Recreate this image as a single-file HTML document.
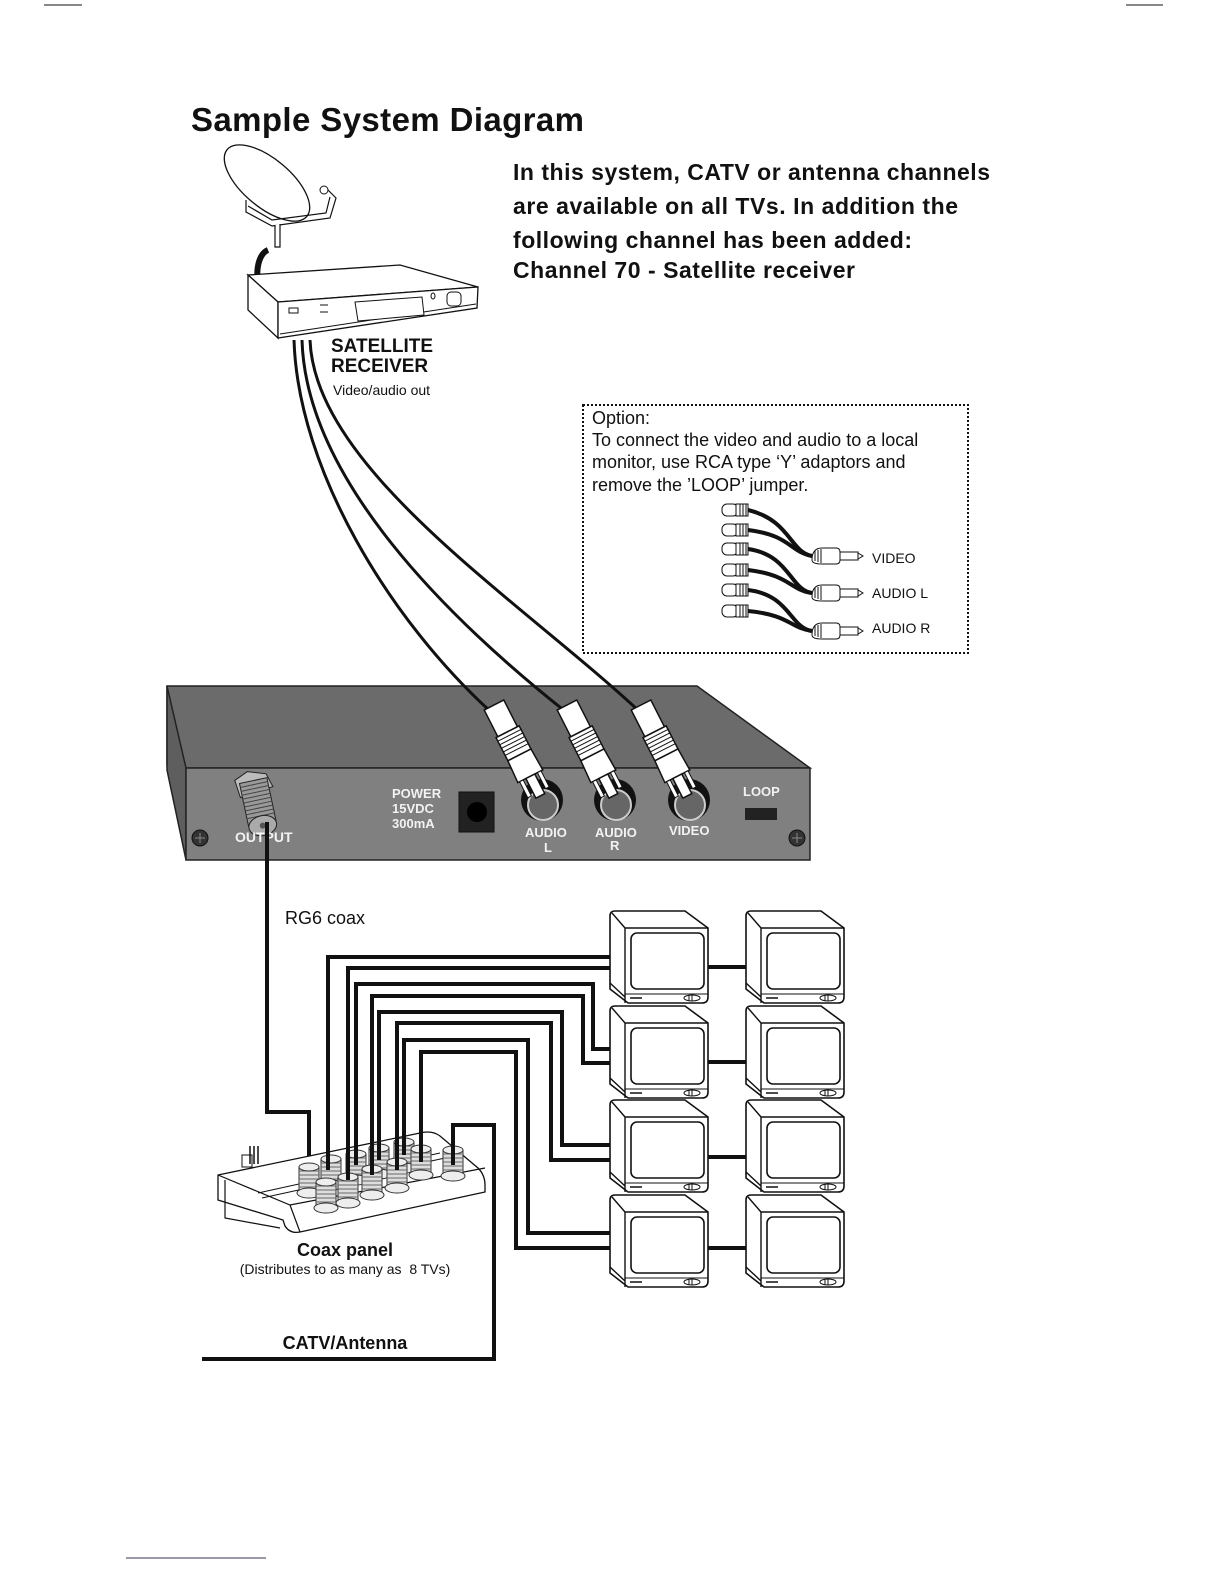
<!DOCTYPE html>
<html><head><meta charset="utf-8"><style>html,body{margin:0;padding:0;background:#fff}svg{display:block}</style></head>
<body>
<svg width="1224" height="1584" viewBox="0 0 1224 1584" xmlns="http://www.w3.org/2000/svg" font-family="Liberation Sans, Arial, sans-serif">
<defs>
<g id="tv">
  <path d="M0,5 Q0,0 5,0 L75,0 L98,17 L98,86 Q98,92 92,92 L18,92 L0,78 Z" fill="#fff" stroke="#111" stroke-width="1.6"/>
  <path d="M2,2 L15,17 L98,17 M15,17 L15,92 M0,72 L15,86" fill="none" stroke="#111" stroke-width="1.4"/>
  <rect x="21" y="22" width="73" height="56" rx="6" fill="#fff" stroke="#111" stroke-width="1.6"/>
  <line x1="15" y1="83" x2="98" y2="83" stroke="#111" stroke-width="1"/>
  <line x1="20" y1="87" x2="32" y2="87" stroke="#111" stroke-width="1.5"/>
  <ellipse cx="82" cy="87" rx="8" ry="3" fill="none" stroke="#111" stroke-width="1"/>
  <line x1="79" y1="84" x2="79" y2="90" stroke="#111"/><line x1="82" y1="84" x2="82" y2="90" stroke="#111"/>
</g>
<g id="plug">
  <rect x="-11" y="0" width="22" height="30" fill="#fff" stroke="#111" stroke-width="1.5"/>
  <rect x="-13" y="30" width="26" height="26" fill="#fff" stroke="#111" stroke-width="1.5"/>
  <path d="M-13,34h26M-13,38h26M-13,42h26M-13,46h26M-13,50h26" stroke="#111" stroke-width="1"/>
  <path d="M-13,56 L13,56 L14,80 L-14,80 Z" fill="#fff" stroke="#111" stroke-width="1.5"/>
  <rect x="-5" y="80" width="10" height="22" fill="#fff" stroke="#111" stroke-width="1.5"/>
  <rect x="-12" y="80" width="4" height="18" fill="#fff" stroke="#111"/>
  <rect x="8" y="80" width="4" height="18" fill="#fff" stroke="#111"/>
</g>
<g id="fjack">
  <path d="M-20,4 Q-20,-8 -10,-8 L4,-8 Q8,-8 8,-4 L8,4 Q8,8 4,8 L-10,8 Q-20,8 -20,4 Z" fill="#fff" stroke="#111"/>
  <path d="M-17,-5v10M-14,-6v12M-11,-7v14" stroke="#111"/>
  <rect x="8" y="-4" width="18" height="8" fill="#fff" stroke="#111"/>
  <path d="M26,-3 l5,3 l-5,3" fill="none" stroke="#111"/>
</g>
<g id="mjack">
  <rect x="-24" y="-6" width="16" height="12" rx="5" fill="#fff" stroke="#111"/>
  <rect x="-10" y="-6" width="12" height="12" fill="#fff" stroke="#111"/>
  <path d="M-6,-6v12M-3,-6v12M0,-6v12" stroke="#111"/>
</g>
<g id="cc">
  <rect x="-10" y="-18" width="20" height="26" fill="#ddd" stroke="#333" stroke-width="1"/>
  <path d="M-10,-14h20M-10,-10h20M-10,-6h20M-10,-2h20M-10,2h20" stroke="#666"/>
  <ellipse cx="0" cy="8" rx="12" ry="5" fill="#eee" stroke="#333"/>
  <ellipse cx="0" cy="-18" rx="10" ry="4" fill="#eee" stroke="#333"/>
</g>
</defs>

<line x1="44" y1="5" x2="82" y2="5" stroke="#111" stroke-width="1"/>
<line x1="1126" y1="5" x2="1163" y2="5" stroke="#111" stroke-width="1"/>
<line x1="126" y1="1558" x2="266" y2="1558" stroke="#335" stroke-width="1"/>

<text x="191" y="131" font-size="33" font-weight="bold" fill="#111" textLength="393">Sample System Diagram</text>
<g font-size="23" font-weight="bold" fill="#111">
<text x="513" y="180" textLength="477">In this system, CATV or antenna channels</text>
<text x="513" y="214" textLength="445">are available on all TVs.  In addition the</text>
<text x="513" y="248" textLength="399">following channel has been added:</text>
<text x="513" y="278" textLength="342">Channel 70 - Satellite receiver</text>
</g>

<path d="M268,250 C255,255 255,285 262,288" fill="none" stroke="#111" stroke-width="6"/>
<ellipse cx="267" cy="183" rx="52" ry="24" transform="rotate(40 267 183)" fill="#fff" stroke="#111" stroke-width="1.3"/>
<path d="M246,200 L246,212 L272,226 L330,218 L336,198 L326,188 M248,206 L272,220 L326,213 L330,197" fill="none" stroke="#111" stroke-width="1.2"/>
<circle cx="324" cy="190" r="4" fill="#fff" stroke="#111"/>
<path d="M275,225 L275,247 L280,247 L280,224" fill="#fff" stroke="#111" stroke-width="1.2"/>

<path d="M248,275 L400,265 L478,287 L278,302 Z" fill="#fff" stroke="#111" stroke-width="1.3"/>
<path d="M248,275 L248,310 L278,338 L278,302 Z" fill="#fff" stroke="#111" stroke-width="1.3"/>
<path d="M278,302 L478,287 L477,308 L278,338 Z" fill="#fff" stroke="#111" stroke-width="1.3"/>
<path d="M280,334 L476,304" stroke="#111"/>
<path d="M355,302 L422,297 L424,315 L358,321 Z" fill="#fff" stroke="#111"/>
<rect x="289" y="308" width="9" height="5" fill="none" stroke="#111"/>
<line x1="320" y1="305" x2="328" y2="305" stroke="#111"/><line x1="320" y1="312" x2="328" y2="312" stroke="#111"/>
<ellipse cx="433" cy="296" rx="2" ry="3" fill="none" stroke="#111"/>
<rect x="447" y="292" width="14" height="14" rx="4" fill="none" stroke="#111"/>

<text x="331" y="352" font-size="19" font-weight="bold" fill="#111">SATELLITE</text>
<text x="331" y="372" font-size="19" font-weight="bold" fill="#111">RECEIVER</text>
<text x="333" y="395" font-size="14" fill="#111">Video/audio out</text>

<rect x="583" y="405" width="385" height="248" fill="none" stroke="#111" stroke-width="2" stroke-dasharray="2,2"/>
<g font-size="18" fill="#111">
<text x="592" y="424">Option:</text>
<text x="592" y="446">To connect the video and audio to a local</text>
<text x="592" y="468">monitor, use RCA type ‘Y’ adaptors and</text>
<text x="592" y="491">remove the ’LOOP’ jumper.</text>
</g>
<g stroke="#111" stroke-width="4" fill="none">
<path d="M748,510 C790,520 790,552 812,556"/><path d="M748,530 C790,535 790,552 812,556"/>
<path d="M748,549 C790,555 790,590 812,593"/><path d="M748,570 C790,575 790,590 812,593"/>
<path d="M748,590 C790,595 790,628 812,631"/><path d="M748,611 C790,615 790,628 812,631"/>
</g>
<use href="#mjack" x="746" y="510"/><use href="#mjack" x="746" y="530"/>
<use href="#mjack" x="746" y="549"/><use href="#mjack" x="746" y="570"/>
<use href="#mjack" x="746" y="590"/><use href="#mjack" x="746" y="611"/>
<use href="#fjack" x="832" y="556"/><use href="#fjack" x="832" y="593"/><use href="#fjack" x="832" y="631"/>
<text x="872" y="563" font-size="14" fill="#111">VIDEO</text>
<text x="872" y="598" font-size="14" fill="#111">AUDIO L</text>
<text x="872" y="633" font-size="14" fill="#111">AUDIO R</text>

<path d="M167,686 L697,686 L810,768 L186,768 L167,765 Z" fill="#6b6b6b" stroke="#222" stroke-width="1.5"/>
<path d="M167,686 L167,770 L186,860 L186,768 Z" fill="#5e5e5e" stroke="#222" stroke-width="1.5"/>
<rect x="186" y="768" width="624" height="92" fill="#808080" stroke="#222" stroke-width="1.5"/>

<g stroke="#111" stroke-width="3" fill="none">
<path d="M294,340 C298,470 390,620 491,712"/>
<path d="M302,340 C306,480 450,620 566,712"/>
<path d="M310,340 C315,470 520,600 640,712"/>
</g>

<circle cx="542" cy="800" r="21" fill="#111"/><circle cx="543" cy="805" r="15" fill="#666" stroke="#ccc" stroke-width="2"/>
<circle cx="615" cy="800" r="21" fill="#111"/><circle cx="616" cy="805" r="15" fill="#666" stroke="#ccc" stroke-width="2"/>
<circle cx="689" cy="800" r="21" fill="#111"/><circle cx="690" cy="805" r="15" fill="#666" stroke="#ccc" stroke-width="2"/>
<use href="#plug" transform="translate(494,705) rotate(-27)"/>
<use href="#plug" transform="translate(567,705) rotate(-27)"/>
<use href="#plug" transform="translate(641,705) rotate(-27)"/>

<g transform="translate(259,808) rotate(-12)">
<path d="M-18,-32 L-4,-38 L14,-32 L18,-18 L-16,-14 Z" fill="#bbb" stroke="#222"/>
<rect x="-14" y="-28" width="28" height="44" fill="#999" stroke="#222"/>
<path d="M-14,-24h28M-14,-20h28M-14,-16h28M-14,-12h28M-14,-8h28M-14,-4h28M-14,0h28M-14,4h28M-14,8h28" stroke="#444"/>
<ellipse cx="0" cy="18" rx="14" ry="10" fill="#aaa" stroke="#222"/>
<circle cx="0" cy="18" r="3" fill="#555"/>
</g>
<rect x="459" y="792" width="35" height="40" fill="#222" stroke="#111"/>
<circle cx="477" cy="812" r="10" fill="#000"/>
<rect x="745" y="808" width="32" height="12" fill="#222"/>
<circle cx="200" cy="838" r="8" fill="#333" stroke="#111"/><path d="M195,838h10M200,833v10" stroke="#888"/>
<circle cx="797" cy="838" r="8" fill="#333" stroke="#111"/><path d="M792,838h10M797,833v10" stroke="#888"/>
<g fill="#fff" font-size="13" font-weight="bold" opacity="0.9">
<text x="392" y="798">POWER</text><text x="392" y="813">15VDC</text><text x="392" y="828">300mA</text>
<text x="235" y="842" font-size="14">OUTPUT</text>
<text x="525" y="837">AUDIO</text><text x="544" y="852">L</text>
<text x="595" y="837">AUDIO</text><text x="610" y="850">R</text>
<text x="669" y="835">VIDEO</text>
<text x="743" y="796">LOOP</text>
</g>

<path d="M267,822 L267,1112 L309,1112 L309,1165" fill="none" stroke="#111" stroke-width="4"/>
<text x="285" y="924" font-size="18" fill="#111">RG6 coax</text>

<path d="M218,1175 L420,1133 Q432,1130 440,1136 L478,1168 Q485,1175 485,1185 L485,1192 L300,1232 Q290,1234 285,1226 L283,1220 L218,1200 Z" fill="#fff" stroke="#111" stroke-width="1.3"/>
<path d="M218,1175 L290,1205 L485,1168 M290,1205 L300,1232 M225,1180 L225,1218 L280,1228" fill="none" stroke="#111" stroke-width="1.2"/>
<path d="M258,1193 L440,1153 M262,1198 L445,1158" stroke="#111"/>
<rect x="242" y="1155" width="10" height="12" fill="#fff" stroke="#111"/>
<path d="M250,1146v18M254,1146v18M258,1146v18" stroke="#111" stroke-width="1.5"/>
<use href="#cc" x="309" y="1185"/><use href="#cc" x="331" y="1177"/><use href="#cc" x="356" y="1172"/>
<use href="#cc" x="379" y="1166"/><use href="#cc" x="404" y="1160"/><use href="#cc" x="421" y="1167"/>
<use href="#cc" x="326" y="1200"/><use href="#cc" x="348" y="1195"/><use href="#cc" x="372" y="1187"/>
<use href="#cc" x="397" y="1180"/><use href="#cc" x="453" y="1168"/>

<text x="345" y="1256" font-size="18" font-weight="bold" fill="#111" text-anchor="middle">Coax panel</text>
<text x="345" y="1274" font-size="14" fill="#111" text-anchor="middle">(Distributes to as many as&#160; 8 TVs)</text>

<path d="M453,1165 L453,1125 L494,1125 L494,1359 L202,1359" fill="none" stroke="#111" stroke-width="4"/>
<text x="345" y="1349" font-size="18" font-weight="bold" fill="#111" text-anchor="middle">CATV/Antenna</text>

<g fill="none" stroke="#111" stroke-width="4">
<path d="M328,1170 L328,957 L615,957"/>
<path d="M348,1180 L348,968 L615,968"/>
<path d="M356,1165 L356,984 L593,984 L593,1049 L615,1049"/>
<path d="M372,1175 L372,996 L583,996 L583,1063 L615,1063"/>
<path d="M379,1160 L379,1012 L562,1012 L562,1145 L615,1145"/>
<path d="M397,1170 L397,1023 L551,1023 L551,1160 L615,1160"/>
<path d="M404,1155 L404,1040 L528,1040 L528,1233 L615,1233"/>
<path d="M421,1162 L421,1052 L516,1052 L516,1248 L615,1248"/>
<path d="M700,967 L760,967 M700,1062 L760,1062 M700,1157 L760,1157 M700,1248 L760,1248"/>
</g>

<use href="#tv" x="610" y="911"/><use href="#tv" x="746" y="911"/>
<use href="#tv" x="610" y="1006"/><use href="#tv" x="746" y="1006"/>
<use href="#tv" x="610" y="1100"/><use href="#tv" x="746" y="1100"/>
<use href="#tv" x="610" y="1195"/><use href="#tv" x="746" y="1195"/>
</svg>
</body></html>
